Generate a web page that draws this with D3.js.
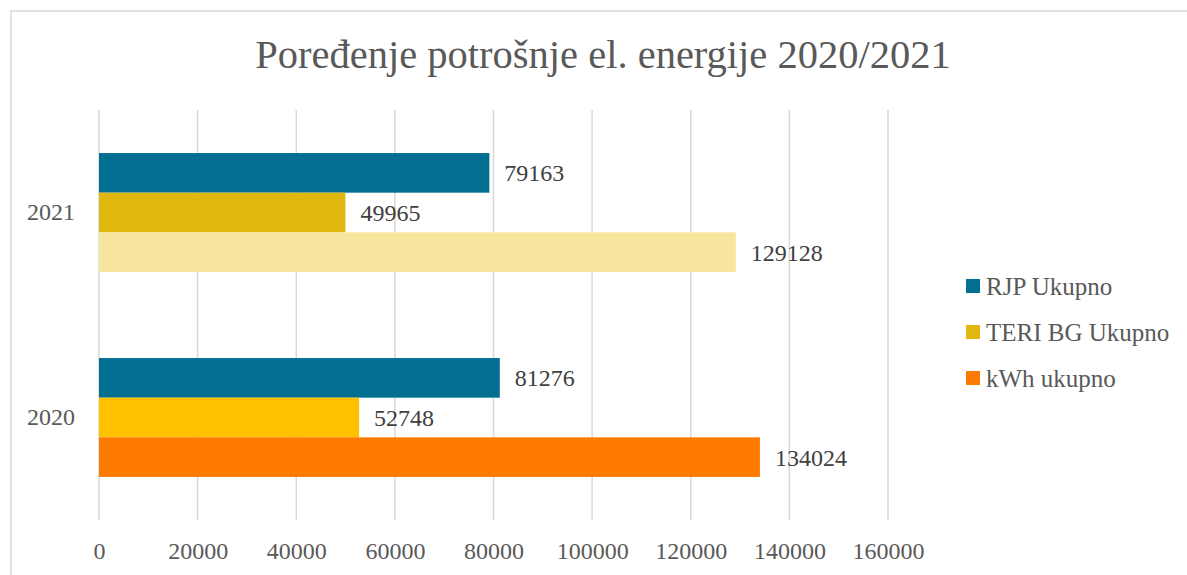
<!DOCTYPE html>
<html>
<head>
<meta charset="utf-8">
<script src="https://cdnjs.cloudflare.com/ajax/libs/d3/7.8.5/d3.min.js"></script>
<style>
    html, body { margin: 0; padding: 0; background: #fff; overflow: hidden; }
    svg text { font-family: "Liberation Serif", "DejaVu Serif", serif; }
</style>
</head>
<body>
<div id="chart"></div>
<script>
// chart data
const years = ["2021", "2020"];
const seriesNames = ["RJP Ukupno", "TERI BG Ukupno", "kWh ukupno"];
const rjpValues = [79163, 81276];
const teriValues = [49965, 52748];
const kwhValues = [129128, 134024];
const xTicks = [0, 20000, 40000, 60000, 80000, 100000, 120000, 140000, 160000];

// colours per series, per year (2021 uses lighter tints in the source)
const barColors = {
    "RJP Ukupno": { "2021": "#036f91", "2020": "#036f91" },
    "TERI BG Ukupno": { "2021": "#e0b80f", "2020": "#ffc000" },
    "kWh ukupno": { "2021": "#f7e59e", "2020": "#fe7a00" }
};
const legendColors = ["#036f91", "#e0b80f", "#fe7a00"];

const width = 1187, height = 575;
const margin = { top: 110, right: 299, bottom: 55, left: 99 };

const svg = d3.select("#chart").append("svg")
    .attr("width", width)
    .attr("height", height);

// outer frame (only top and left edges are inside the picture)
svg.append("rect")
    .attr("x", 11).attr("y", 11)
    .attr("width", width + 20).attr("height", height + 20)
    .attr("fill", "#fff")
    .attr("stroke", "#d9d9d9")
    .attr("stroke-width", 1.5);

svg.append("text")
    .attr("x", 603)
    .attr("y", 68)
    .attr("text-anchor", "middle")
    .attr("fill", "#595959")
    .style("font-size", "40.5px")
    .text("Poređenje potrošnje el. energije 2020/2021");

const x = d3.scaleLinear()
    .domain([0, 160000])
    .range([margin.left, width - margin.right]);

const y = d3.scaleBand()
    .domain(years)
    .range([margin.top, height - margin.bottom])
    .paddingInner(0.42)
    .paddingOuter(0.21);

const ySub = d3.scaleBand()
    .domain(seriesNames)
    .range([0, y.bandwidth()]);

// gridlines
svg.append("g")
    .selectAll("line")
    .data(xTicks)
    .join("line")
    .attr("x1", d => x(d)).attr("x2", d => x(d))
    .attr("y1", margin.top).attr("y2", height - margin.bottom)
    .attr("stroke", "#d9d9d9")
    .attr("stroke-width", 1.5);

// x axis labels
const xAxis = d3.axisBottom(x).tickValues(xTicks).tickSize(0).tickPadding(22).tickFormat(d3.format("d"));
const gx = svg.append("g")
    .attr("transform", `translate(0,${height - margin.bottom})`)
    .call(xAxis);
gx.select(".domain").remove();
gx.selectAll("text")
    .attr("fill", "#595959")
    .style("font-size", "24px");

// y axis labels
const yAxis = d3.axisLeft(y).tickSize(0).tickPadding(24);
const gy = svg.append("g")
    .attr("transform", `translate(${margin.left},0)`)
    .call(yAxis);
gy.select(".domain").remove();
gy.selectAll("text")
    .attr("fill", "#595959")
    .style("font-size", "24px");

const rows = [];
years.forEach((yr, i) => {
    rows.push({ year: yr, series: seriesNames[0], value: rjpValues[i] });
    rows.push({ year: yr, series: seriesNames[1], value: teriValues[i] });
    rows.push({ year: yr, series: seriesNames[2], value: kwhValues[i] });
});

const bars = svg.append("g");
bars.selectAll("rect")
    .data(rows)
    .join("rect")
    .attr("x", x(0))
    .attr("y", d => y(d.year) + ySub(d.series))
    .attr("width", d => x(d.value) - x(0))
    .attr("height", ySub.bandwidth())
    .attr("fill", d => barColors[d.series][d.year]);

bars.selectAll("text")
    .data(rows)
    .join("text")
    .attr("x", d => x(d.value) + 15)
    .attr("y", d => y(d.year) + ySub(d.series) + ySub.bandwidth() / 2)
    .attr("dy", "0.35em")
    .attr("fill", "#404040")
    .style("font-size", "24px")
    .text(d => d.value);

// legend
const legend = svg.append("g")
    .attr("transform", "translate(966,286)");
const item = legend.selectAll("g")
    .data(seriesNames)
    .join("g")
    .attr("transform", (d, i) => `translate(0,${i * 46})`);
item.append("rect")
    .attr("x", 0).attr("y", -7)
    .attr("width", 14).attr("height", 14)
    .attr("fill", (d, i) => legendColors[i]);
item.append("text")
    .attr("x", 20)
    .attr("dy", "0.35em")
    .attr("fill", "#595959")
    .style("font-size", "25px")
    .text(d => d);
</script>
</body>
</html>
